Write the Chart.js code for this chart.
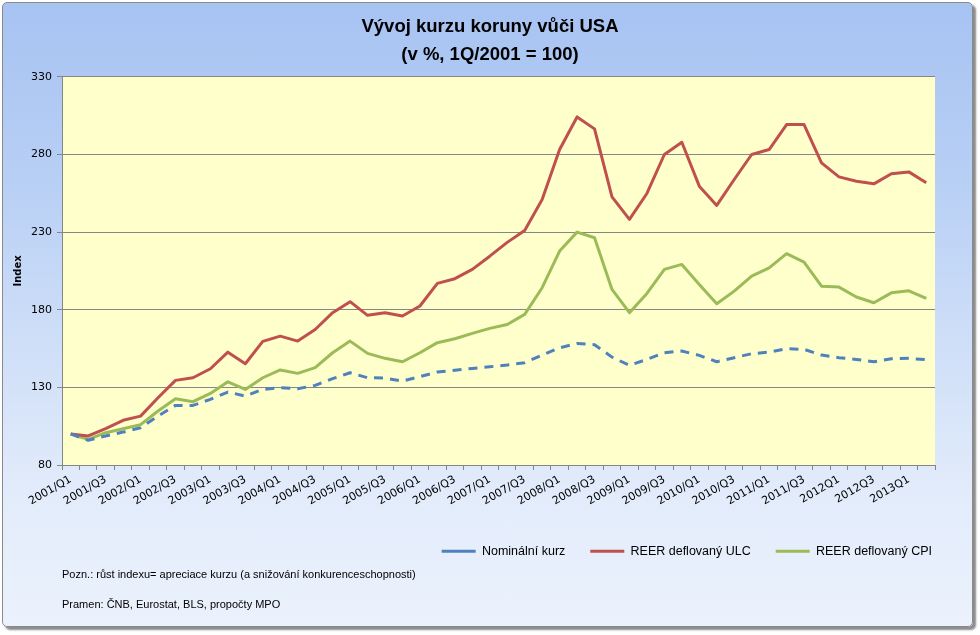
<!DOCTYPE html>
<html lang="cs">
<head>
<meta charset="utf-8">
<title>Vývoj kurzu koruny vůči USA</title>
<script src="https://cdn.jsdelivr.net/npm/chart.js@4/dist/chart.umd.min.js"></script>
<style>
    html, body { margin: 0; padding: 0; width: 980px; height: 635px; overflow: hidden; background: #ffffff; }
    #frame {
        position: absolute; left: 2px; top: 2px; width: 969px; height: 623px;
        border: 1px solid #8a8a8a; border-radius: 5px;
        background: linear-gradient(to bottom, #a7c3f2 0%, #b9d0f5 30%, #cfdff8 55%, #e3ecfb 80%, #ebf2fd 100%);
        box-shadow: 3px 3px 2px #8c8c8c;
    }
    #chart { position: absolute; left: 0; top: 0; }
    .note {
        position: absolute; left: 62px;
        font-family: "Liberation Sans Narrow", "Arial Narrow", "Liberation Sans", sans-serif;
        font-size: 11px; color: #000;
    }
</style>
</head>
<body>
<div id="frame"></div>
<canvas id="chart" width="980" height="635"></canvas>
<div class="note" style="top:568px">Pozn.: růst indexu= apreciace kurzu (a snižování konkurenceschopnosti)</div>
<div class="note" style="top:598px">Pramen: ČNB, Eurostat, BLS, propočty MPO</div>
<script>
// quarters 2001/Q1 - 2013/Q2
const quarters = [
    '2001/Q1', '2001/Q2', '2001/Q3', '2001/Q4',
    '2002/Q1', '2002/Q2', '2002/Q3', '2002/Q4',
    '2003/Q1', '2003/Q2', '2003/Q3', '2003/Q4',
    '2004/Q1', '2004/Q2', '2004/Q3', '2004/Q4',
    '2005/Q1', '2005/Q2', '2005/Q3', '2005/Q4',
    '2006/Q1', '2006/Q2', '2006/Q3', '2006/Q4',
    '2007/Q1', '2007/Q2', '2007/Q3', '2007/Q4',
    '2008/Q1', '2008/Q2', '2008/Q3', '2008/Q4',
    '2009/Q1', '2009/Q2', '2009/Q3', '2009/Q4',
    '2010/Q1', '2010/Q2', '2010/Q3', '2010/Q4',
    '2011/Q1', '2011/Q2', '2011/Q3', '2011/Q4',
    '2012Q1', '2012Q2', '2012Q3', '2012Q4',
    '2013Q1', '2013Q2'
];

const nominal = [100, 95.9, 98.7, 101.2, 104, 111.5, 118.4, 118.4, 122.3, 127,
    124.4, 128.7, 129.8, 129.1, 131.3, 135.6, 139.4, 136.2, 136, 134.1,
    136.9, 139.9, 141, 142.2, 143.3, 144.4, 145.9, 150.8, 155.5, 158.3,
    157.5, 149.5, 144.2, 148, 152.3, 153.4, 150.6, 146.5, 149.1, 151.7,
    152.7, 154.9, 154.5, 150.8, 149.1, 148, 146.5, 148.5, 148.7, 147.8];

const reerUlc = [100, 98.7, 103.4, 108.8, 111.5, 123.3, 134.5, 136.2, 142, 152.7,
    145.2, 159.6, 163, 159.8, 167.3, 178.1, 185.2, 176.4, 178.1, 176,
    182.4, 197, 200, 206, 214.5, 223.4, 231.1, 251, 283.2, 304.2,
    296.5, 252.7, 238.2, 254.9, 280, 287.9, 259.6, 247.2, 263.9, 280,
    283.2, 299.3, 299.3, 274.6, 265.6, 262.8, 261.1, 267.6, 268.8, 261.8];

const reerCpi = [100, 96.5, 100.8, 103.4, 106, 114.8, 122.7, 120.8, 126.1, 133.6,
    128.7, 136.2, 141.2, 139, 142.7, 152.3, 159.8, 151.9, 148.7, 146.5,
    152.3, 158.8, 161.3, 164.8, 168, 170.5, 177, 194.2, 217.8, 230,
    226.4, 193.1, 178.1, 190.5, 206, 209.2, 196.3, 183.9, 192, 201.7,
    207, 216.1, 210.7, 195.2, 194.6, 188.2, 184.5, 190.9, 192.2, 187.3];

const yMin = 80;
const yMax = 330;
const yStep = 50;

// yellow plot area background
const plotBackground = {
    id: 'plotBackground',
    beforeDraw(chart) {
        const { ctx, chartArea } = chart;
        ctx.save();
        ctx.fillStyle = '#ffffcc';
        ctx.fillRect(chartArea.left, chartArea.top, chartArea.right - chartArea.left, chartArea.bottom - chartArea.top);
        ctx.restore();
    }
};

// title is centred on the whole frame, legend row ends right of the plot area
const boxShift = {
    id: 'boxShift',
    afterLayout(chart) {
        if (chart.titleBlock) {
            chart.titleBlock.right += 37;
        }
        if (chart.legend) {
            chart.legend.right += 22;
        }
    }
};

function lineDataset(label, data, color, dash) {
    return {
        label: label,
        data: data,
        borderColor: color,
        backgroundColor: color,
        borderWidth: 3,
        borderDash: dash,
        borderJoinStyle: 'round',
        pointRadius: 0,
        tension: 0,
        fill: false
    };
}

const axisFont = { family: 'DejaVu Sans', size: 11 };

new Chart(document.getElementById('chart'), {
    type: 'line',
    data: {
        labels: quarters,
        datasets: [
            lineDataset('Nominální kurz', nominal, '#4f81bd', [9, 7]),
            lineDataset('REER deflovaný ULC', reerUlc, '#c0504d', []),
            lineDataset('REER deflovaný CPI', reerCpi, '#9bbb59', [])
        ]
    },
    options: {
        responsive: false,
        animation: false,
        layout: { padding: { left: 8, right: 45, top: 0, bottom: 67.5 } },
        plugins: {
            title: {
                display: true,
                text: ['Vývoj kurzu koruny vůči USA', '(v %, 1Q/2001 = 100)'],
                color: '#000',
                font: { family: 'Liberation Sans', size: 18.5, weight: 'bold', lineHeight: 1.51 },
                padding: { top: 13, bottom: 8 }
            },
            legend: {
                position: 'bottom',
                align: 'end',
                labels: {
                    usePointStyle: true,
                    pointStyle: 'line',
                    pointStyleWidth: 34,
                    padding: 25,
                    color: '#000',
                    font: { family: 'Liberation Sans', size: 12.5 }
                }
            },
            tooltip: { enabled: false }
        },
        scales: {
            x: {
                offset: true,
                afterFit: function(scale) { scale.height = 55; },
                grid: {
                    offset: true,
                    drawOnChartArea: false,
                    drawTicks: true,
                    tickLength: 5,
                    color: '#868686'
                },
                border: { color: '#868686' },
                ticks: {
                    autoSkip: false,
                    maxRotation: 30,
                    minRotation: 30,
                    padding: 3,
                    color: '#000',
                    font: axisFont,
                    callback: function(value, index) {
                        return index % 2 === 0 ? this.getLabelForValue(value) : '';
                    }
                }
            },
            y: {
                min: yMin,
                max: yMax,
                afterFit: function(scale) { scale.width = 54; },
                ticks: { stepSize: yStep, padding: 5, color: '#000', font: axisFont },
                grid: { color: '#868686', tickLength: 5 },
                border: { color: '#868686' },
                title: {
                    display: true,
                    text: 'Index',
                    color: '#000',
                    font: { family: 'DejaVu Sans', size: 10, weight: 'bold' },
                    padding: { top: 4, bottom: 0 }
                }
            }
        }
    },
    plugins: [plotBackground, boxShift]
});
</script>
</body>
</html>
